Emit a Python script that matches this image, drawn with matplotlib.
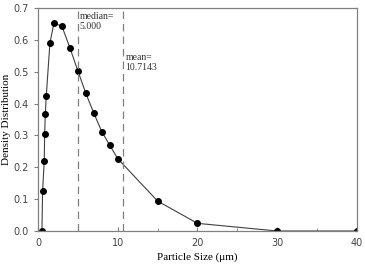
import matplotlib.pyplot as plt
import numpy as np

size = [0.5, 0.58, 0.79, 0.84, 0.92, 1.04, 1.5, 2.0, 3.0, 4.0, 5.0, 6.0, 7.0, 8.0, 9.0, 10.0, 15.0, 20.0, 30.0, 40.0]
density = [0.0, 0.126, 0.221, 0.304, 0.367, 0.423, 0.59, 0.652, 0.643, 0.575, 0.503, 0.432, 0.37, 0.312, 0.269,
           0.227, 0.094, 0.024, 0.0, 0.0]
median = 5.0
mean = 10.7143

fig = plt.figure(figsize=(3.65, 2.64), dpi=100)
ax = fig.add_axes([0.104, 0.125, 0.874, 0.845])

ax.plot(size, density, "-", color="#404040", lw=0.8)
ax.plot(size, density, "o", color="k", ms=4)

ax.axvline(median, color="#808080", ls=(0, (6, 4)), lw=0.9)
ax.axvline(mean, color="#808080", ls=(0, (6, 4)), lw=0.9)
ax.text(median + 0.25, 0.688, "median=\n%.3f" % median, fontsize=7, family="Liberation Serif",
        color="#333333", va="top", linespacing=1.15)
ax.text(mean + 0.25, 0.558, "mean=\n%.4f" % mean, fontsize=7, family="Liberation Serif",
        color="#333333", va="top", linespacing=1.15)

ax.set_xlim(0, 40)
ax.set_ylim(0, 0.7)
ax.set_xticks([0, 10, 20, 30, 40])
ax.set_xticks([5, 15, 25, 35], minor=True)
ax.set_yticks(np.arange(0, 0.71, 0.1))
ax.set_yticklabels(["%.1f" % v for v in np.arange(0, 0.71, 0.1)])
ax.tick_params(axis="x", direction="in", length=3, color="#808080", labelsize=7, labelcolor="#444444", pad=5)
ax.tick_params(axis="x", which="minor", direction="in", length=2, color="#808080")
ax.tick_params(axis="y", direction="out", length=3, color="#808080", labelsize=7, labelcolor="#444444")
for s in ax.spines.values():
    s.set_color("#808080")
    s.set_linewidth(0.9)

ax.set_ylabel("Density Distribution", family="Liberation Serif", fontsize=8, labelpad=2)
ax.set_xlabel("Particle Size (\u03bcm)", family="Liberation Serif", fontsize=8, labelpad=3)

fig.savefig("out.png", dpi=100)
